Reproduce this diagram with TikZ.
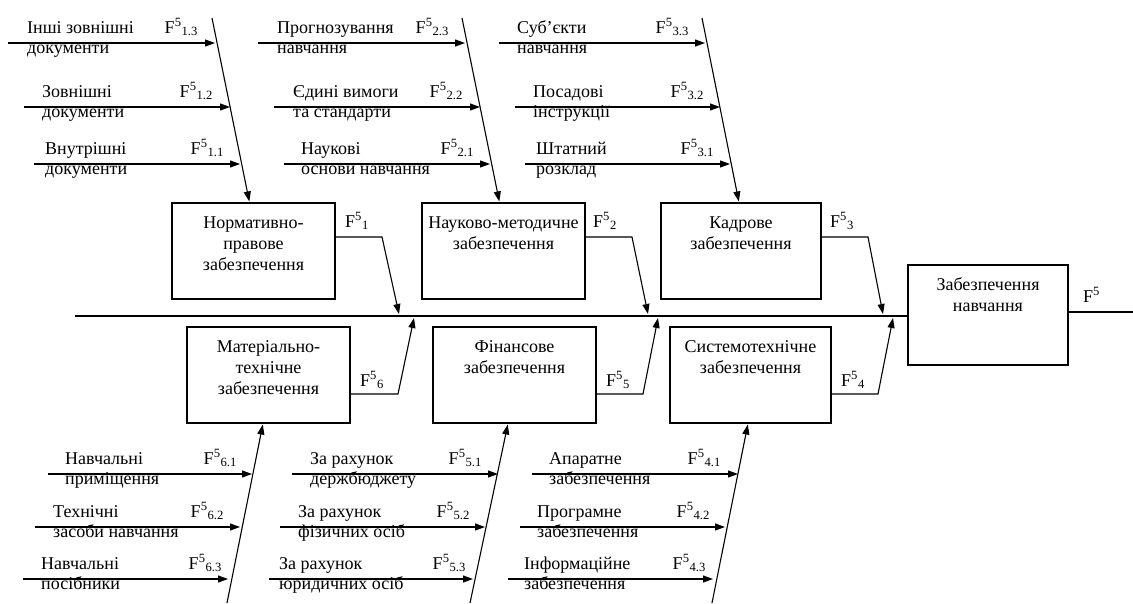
\documentclass[tikz,border=0pt]{standalone}
\usepackage{fontspec}
\setmainfont{Liberation Serif}
\usetikzlibrary{arrows.meta}

\newcommand{\fsub}[1]{F\textsuperscript{5}\textsubscript{#1}}

\begin{document}
\begin{tikzpicture}[
        x=1pt, y=-1pt,
        font=\fontsize{18}{20}\selectfont,
        box/.style={draw, line width=1.1pt, minimum width=163pt,
                    minimum height=96pt, inner sep=0pt},
        boxtxt/.style={anchor=base, align=center, inner sep=0pt,
                       font=\fontsize{18}{21}\selectfont},
        lbl/.style={anchor=base west, align=left, inner sep=0pt},
        fl/.style={anchor=base east, inner sep=0pt},
        fr/.style={anchor=base west, inner sep=0pt},
        arr/.style={-{Triangle[length=10pt,width=7pt]}, line width=1.1pt},
        link/.style={line width=1.1pt}
    ]
    \useasboundingbox (0,0) rectangle (1133,603);

    % result box and spine
    \node[box, minimum width=160pt, minimum height=100pt] (res) at (988,315) {};
    \node[boxtxt] (restxt) at (988,311) {Забезпечення\\навчання};
    \coordinate (sp) at (75,316);
    \coordinate (out) at (1133,312);
    \draw[line width=1.3pt] (sp) -- (sp -| res.west);
    \draw[link] (res.east |- out) -- (out);
    \node[fr] (fres) at (1083,302) {F\textsuperscript{5}};

    % upper boxes
    \node[box] (nrm) at (253.5,251) {};
    \node[boxtxt] (nrmtxt) at (253.5,270) {Нормативно-\\правове\\забезпечення};
    \node[box] (nmt) at (503.5,251) {};
    \node[boxtxt] (nmttxt) at (503.5,249) {Науково-методичне\\забезпечення};
    \node[box, minimum width=160pt] (kdr) at (741,251) {};
    \node[boxtxt] (kdrtxt) at (741,249) {Кадрове\\забезпечення};

    % lower boxes
    \node[box] (mat) at (268.5,375) {};
    \node[boxtxt] (mattxt) at (268.5,394) {Матеріально-\\технічне\\забезпечення};
    \node[box] (fin) at (514.5,375) {};
    \node[boxtxt] (fintxt) at (514.5,373) {Фінансове\\забезпечення};
    \node[box, minimum width=161pt] (sys) at (750.5,375) {};
    \node[boxtxt] (systxt) at (750.5,373) {Системотехнічне\\забезпечення};

    % boxes to spine
    \coordinate (k1) at (382,237); \coordinate (p1) at (399,314);
    \coordinate (k2) at (632,237); \coordinate (p2) at (648,314);
    \coordinate (k3) at (868,237); \coordinate (p3) at (883,314);
    \coordinate (k6) at (398,394); \coordinate (p6) at (414,318);
    \coordinate (k5) at (643,394); \coordinate (p5) at (658,318);
    \coordinate (k4) at (878,394); \coordinate (p4) at (893,318);
    \draw[arr] (nrm.east |- k1) -- (k1) -- (p1);
    \draw[arr] (nmt.east |- k2) -- (k2) -- (p2);
    \draw[arr] (kdr.east |- k3) -- (k3) -- (p3);
    \draw[arr] (mat.east |- k6) -- (k6) -- (p6);
    \draw[arr] (fin.east |- k5) -- (k5) -- (p5);
    \draw[arr] (sys.east |- k4) -- (k4) -- (p4);
    \node[fr] (f1) at (345,227) {\fsub{1}};
    \node[fr] (f2) at (593,227) {\fsub{2}};
    \node[fr] (f3) at (830,227) {\fsub{3}};
    \node[fr] (f6) at (360,386) {\fsub{6}};
    \node[fr] (f5) at (606,386) {\fsub{5}};
    \node[fr] (f4) at (841,386) {\fsub{4}};

    % bones
    \coordinate (b1) at (212,18);
    \coordinate (b2) at (462,18);
    \coordinate (b3) at (702,18);
    \coordinate (b6) at (227,603);
    \coordinate (b5) at (470,603);
    \coordinate (b4) at (712,603);
    \draw[arr, shorten >=1pt] (b1) -- ([xshift=-4pt]nrm.north);
    \draw[arr, shorten >=1pt] (b2) -- ([xshift=-4pt]nmt.north);
    \draw[arr, shorten >=1pt] (b3) -- ([xshift=-2pt]kdr.north);
    \draw[arr, shorten >=1pt] (b6) -- ([xshift=-5.5pt]mat.south);
    \draw[arr, shorten >=1pt] (b5) -- ([xshift=-6.5pt]fin.south);
    \draw[arr, shorten >=1pt] (b4) -- ([xshift=-2.5pt]sys.south);

    % sub-factors
    \foreach \g/\r/\sx/\ex/\y/\tx/\fx/\txt in {
        1/3/8/215/43/27/198/{Інші зовнішні\\документи},
        1/2/24/230/107/42/213/{Зовнішні\\документи},
        1/1/34/240/164/45/224/{Внутрішні\\документи},
        2/3/258/465/43/277/449/{Прогнозування\\навчання},
        2/2/274/480/107/293/463/{Єдині вимоги\\та стандарти},
        2/1/284/490/164/301/474/{Наукові\\основи навчання},
        3/3/499/705/43/517/689/{Суб'єкти\\навчання},
        3/2/515/720/107/533/704/{Посадові\\інструкції},
        3/1/525/730/164/536/714/{Штатний\\розклад},
        6/1/48/252/474/65/237/{Навчальні\\приміщення},
        6/2/35/240/527/53/224/{Технічні\\засоби навчання},
        6/3/23/228/579/41/222/{Навчальні\\посібники},
        5/1/292/498/474/310/482/{За рахунок\\держбюджету},
        5/2/280/485/527/298/470/{За рахунок\\фізичних осіб},
        5/3/269/473/579/279/466/{За рахунок\\юридичних осіб},
        4/1/532/738/474/549/721/{Апаратне\\забезпечення},
        4/2/520/725/527/537/710/{Програмне\\забезпечення},
        4/3/508/713/579/524/706/{Інформаційне\\забезпечення}} {
        \coordinate (s\g\r) at (\sx,\y);
        \coordinate (e\g\r) at (\ex,\y);
        \draw[arr] (s\g\r) -- (e\g\r);
        \node[lbl] (t\g\r) at (\tx,\y+10) {\txt};
        \node[fl] (f\g\r) at (\fx,\y-10) {\fsub{\g.\r}};
    }
\end{tikzpicture}
\end{document}
